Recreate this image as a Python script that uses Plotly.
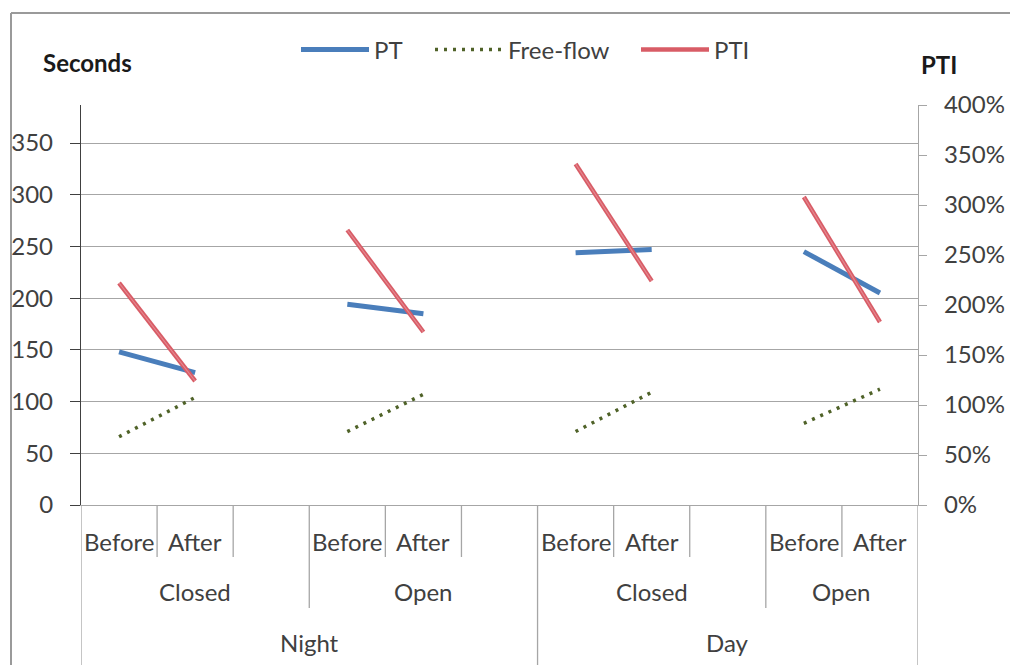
import plotly.graph_objects as go

# ---- data ----
level1 = ["Before", "After", "", "Before", "After", "", "Before", "After", "", "Before", "After"]
level2 = ["Closed", "Open", "Closed", "Open"]
level3 = ["Night", "Day"]
pt = [148, 128, None, 194, 185, None, 244, 247, None, 245, 205]
free_flow = [66, 104, None, 71, 107, None, 71, 109, None, 79, 112]
pti = [2.22, 1.24, None, 2.75, 1.73, None, 3.41, 2.24, None, 3.08, 1.83]
left_ticks = [0, 50, 100, 150, 200, 250, 300, 350]
right_ticks = [0, 0.5, 1.0, 1.5, 2.0, 2.5, 3.0, 3.5, 4.0]

OFF = 8  # default page body margin
W, H = 1010, 657
L, T, PW, PH = 73, 97, 837, 400
R = W - L - PW
B = H - T - PH

def pyp(py):  # page pixel -> paper y
    return (T + PH - (py - OFF)) / PH

def pxp(px):  # page pixel -> paper x
    return (px - OFF - L) / PW

x = list(range(len(level1)))
xs = [xi if v is not None else None for xi, v in zip(x, pt)]

FONT = "Lato, Carlito, 'Open Sans', sans-serif"
TXT = "#404040"
FS = 24

fig = go.Figure()
fig.add_trace(go.Scatter(x=xs, y=pt, mode="lines", name="PT", legend="legend",
                         line=dict(color="#4A7EBB", width=5), connectgaps=False))
fig.add_trace(go.Scatter(x=xs, y=free_flow, mode="lines", name="Free-flow", legend="legend2",
                         line=dict(color="#4F6228", width=3.5, dash="3px,6px"), connectgaps=False))
fig.add_trace(go.Scatter(x=xs, y=pti, mode="lines", name="PTI", yaxis="y2", legend="legend3",
                         line=dict(color="#D85C66", width=4.5), connectgaps=False))
fig.add_trace(go.Scatter(x=xs, y=pti, mode="lines", showlegend=False, yaxis="y2",
                         line=dict(color="#E58890", width=1.2), connectgaps=False, hoverinfo="skip"))

shapes = []
short_b = [0.5, 1.5, 3.5, 4.5, 6.5, 7.5, 9.5]
mid_b = [2.5, 8.5]
full_b = [-0.5, 5.5, 10.5]
for b in short_b:
    shapes.append(dict(type="line", xref="x", yref="paper", x0=b, x1=b, y0=0, y1=pyp(557),
                       line=dict(color="#A6A6A6", width=1.3)))
for b in mid_b:
    shapes.append(dict(type="line", xref="x", yref="paper", x0=b, x1=b, y0=0, y1=pyp(608),
                       line=dict(color="#A6A6A6", width=1.3)))
for b in full_b:
    shapes.append(dict(type="line", xref="x", yref="paper", x0=b, x1=b, y0=0, y1=pyp(668),
                       line=dict(color="#A6A6A6", width=1.3)))
# outer border (left & top)
shapes.append(dict(type="line", xref="paper", yref="paper", x0=pxp(11), x1=pxp(11), y0=pyp(13), y1=pyp(670),
                   line=dict(color="#9A9A9A", width=2)))
shapes.append(dict(type="line", xref="paper", yref="paper", x0=pxp(11), x1=pxp(1030), y0=pyp(13), y1=pyp(13),
                   line=dict(color="#9A9A9A", width=2)))

annotations = []
for i, lab in enumerate(level1):
    if lab:
        annotations.append(dict(x=i, y=pyp(541), xref="x", yref="paper", text=lab, showarrow=False,
                                yanchor="middle", xanchor="center",
                                font=dict(family=FONT, size=FS, color=TXT)))
l2_centers = [1, 4, 7, 9.5]
for c, lab in zip(l2_centers, level2):
    annotations.append(dict(x=c, y=pyp(591), xref="x", yref="paper", text=lab, showarrow=False,
                            yanchor="middle", xanchor="center",
                            font=dict(family=FONT, size=FS, color=TXT)))
l3_centers = [2.5, 8]
for c, lab in zip(l3_centers, level3):
    annotations.append(dict(x=c, y=pyp(642), xref="x", yref="paper", text=lab, showarrow=False,
                            yanchor="middle", xanchor="center",
                            font=dict(family=FONT, size=FS, color=TXT)))
annotations.append(dict(x=pxp(41), y=pyp(62), xref="paper", yref="paper", xanchor="left", yanchor="middle",
                        text="<b>Seconds</b>", showarrow=False, font=dict(family=FONT, size=24, color="#1a1a1a")))
annotations.append(dict(x=pxp(919), y=pyp(65), xref="paper", yref="paper", xanchor="left", yanchor="middle",
                        text="<b>PTI</b>", showarrow=False, font=dict(family=FONT, size=24, color="#1a1a1a")))

leg_common = dict(orientation="h", yanchor="middle", y=pyp(50), xanchor="left",
                  font=dict(family=FONT, size=FS, color=TXT), itemwidth=68, bgcolor="rgba(0,0,0,0)")
fig.update_layout(
    width=W, height=H,
    margin=dict(l=L, r=R, t=T, b=B, autoexpand=False),
    paper_bgcolor="white", plot_bgcolor="white",
    font=dict(family=FONT, size=FS, color=TXT),
    showlegend=True,
    legend=dict(x=pxp(296), **leg_common),
    legend2=dict(x=pxp(430), **leg_common),
    legend3=dict(x=pxp(636), **leg_common),
    xaxis=dict(range=[-0.5, 10.5], showticklabels=False, showgrid=False, zeroline=False,
               showline=True, linecolor="#A6A6A6", linewidth=1.3, ticks=""),
    yaxis=dict(range=[0, 400 * 350 / 362], tickvals=left_ticks, showgrid=True, gridcolor="#A6A6A6",
               gridwidth=1.2, zeroline=False, showline=True, linecolor="#404040", linewidth=1.3,
               ticks="outside", ticklen=10, tickcolor="#404040", ticklabelstandoff=12,
               tickfont=dict(size=FS, color=TXT)),
    yaxis2=dict(range=[0, 4], tickvals=right_ticks, tickformat=".0%", overlaying="y", side="right",
                showgrid=False, zeroline=False, showline=True, linecolor="#A6A6A6", linewidth=1.3,
                ticks="outside", ticklen=8, tickcolor="#A6A6A6", ticklabelstandoff=12,
                tickfont=dict(size=FS, color=TXT)),
    shapes=shapes, annotations=annotations,
)

fig.write_html("out.html")
